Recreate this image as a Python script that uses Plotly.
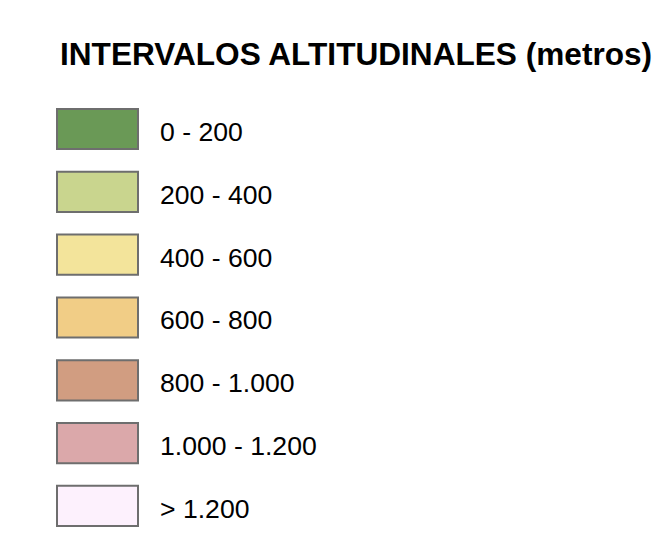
import plotly.graph_objects as go

title_text = "INTERVALOS ALTITUDINALES (metros)"
categories = ["0 - 200", "200 - 400", "400 - 600", "600 - 800",
              "800 - 1.000", "1.000 - 1.200", "> 1.200"]
colors = ["#6a9956", "#c9d58e", "#f3e49b", "#f1cd86",
          "#d19d81", "#dba8aa", "#fdf1fd"]

FONT = "Liberation Sans, Arial, Helvetica, sans-serif"

fig = go.Figure()
fig.add_trace(go.Bar(
    y=categories,
    x=[81] * len(categories),
    base=57,
    orientation="h",
    width=0.64,
    marker=dict(color=colors, line=dict(color="#6e6e6e", width=2)),
    hoverinfo="skip",
    showlegend=False,
))

for cat in categories:
    fig.add_annotation(
        text=cat, x=158, y=cat, xref="x", yref="y",
        xanchor="left", yanchor="middle", yshift=-3,
        showarrow=False,
        font=dict(family=FONT, size=26.6, color="#000000"),
    )

fig.add_annotation(
    text="<b>" + title_text + "</b>",
    xref="paper", yref="paper",
    x=50 / 669, y=1 - 46 / 540,
    xanchor="left", yanchor="middle",
    showarrow=False,
    font=dict(family=FONT, size=31.6, color="#000000"),
)

fig.update_layout(
    width=669, height=540,
    margin=dict(l=0, r=0, t=0, b=0),
    paper_bgcolor="white", plot_bgcolor="white",
    xaxis=dict(range=[8, 677], visible=False, fixedrange=True),
    yaxis=dict(type="category", categoryorder="array", categoryarray=categories,
               range=[6.669, -1.926], visible=False, fixedrange=True),
)

fig.write_html("out.html")
